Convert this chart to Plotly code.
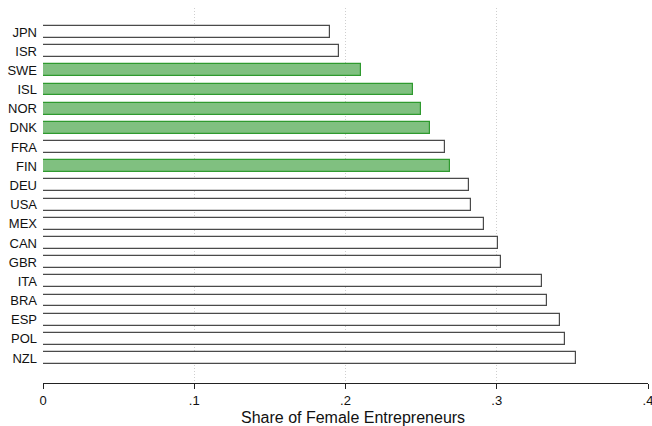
import plotly.graph_objects as go

countries = ["JPN", "ISR", "SWE", "ISL", "NOR", "DNK", "FRA", "FIN", "DEU",
             "USA", "MEX", "CAN", "GBR", "ITA", "BRA", "ESP", "POL", "NZL"]
share = [0.190, 0.196, 0.210, 0.2443, 0.2496, 0.256, 0.2655, 0.2688, 0.2815,
         0.2833, 0.2915, 0.3005, 0.3025, 0.3298, 0.3333, 0.3417, 0.3452, 0.3525]
nordic = {"SWE", "ISL", "NOR", "DNK", "FIN"}

fill = ["#80c080" if c in nordic else "white" for c in countries]
edge = ["#2f9a2f" if c in nordic else "#4a4a4a" for c in countries]

x_ticks = [0, 0.1, 0.2, 0.3, 0.4]
x_tick_text = ["0", ".1", ".2", ".3", ".4"]

fig = go.Figure(go.Bar(
    x=share,
    y=list(range(len(countries))),
    orientation="h",
    width=0.62,
    marker=dict(color=fill, line=dict(color=edge, width=1.2)),
    hoverinfo="x+text",
    text=countries,
    textposition="none",
))

fig.update_layout(
    width=652, height=426,
    margin=dict(l=43, r=4, t=8, b=43),
    paper_bgcolor="white", plot_bgcolor="white",
    font=dict(family="Liberation Sans, Arial, sans-serif", color="#111", size=13),
    showlegend=False,
    bargap=0,
)

fig.update_xaxes(
    range=[0, 0.4],
    tickvals=x_ticks, ticktext=x_tick_text,
    showgrid=True, gridcolor="#cfcfcf", griddash="1px,2px", gridwidth=1,
    showline=True, linecolor="#222", linewidth=1,
    ticks="outside", ticklen=5, tickcolor="#222",
    tickfont=dict(size=13),
    ticklabeloverflow="allow",
    automargin=False,
    zeroline=False,
)

fig.update_yaxes(
    range=[len(countries) - 1 + 1.3, -1.25],
    tickvals=list(range(len(countries))), ticktext=countries,
    showgrid=False, showline=False, zeroline=False,
    ticks="", ticklabelstandoff=5,
    tickfont=dict(size=13),
    automargin=False,
)

# x-axis title, placed slightly right of the plot centre
fig.add_annotation(
    text="Share of Female Entrepreneurs",
    xref="paper", yref="paper",
    x=(352.5 - 43) / 605, y=-34 / 375,
    xanchor="center", yanchor="middle",
    showarrow=False,
    font=dict(size=16),
)

fig.write_html("out.html")
